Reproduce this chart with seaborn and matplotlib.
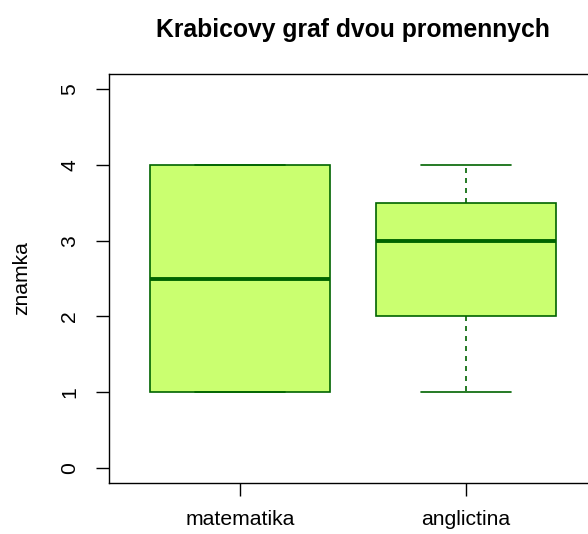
import matplotlib
matplotlib.use("Agg")
import matplotlib.pyplot as plt
import seaborn as sns
import pandas as pd

# Data (scores for each subject)
matematika = [1, 1, 1, 4, 4, 4]
anglictina = [1, 2, 2, 3, 3, 4, 4]
categories = ["matematika", "anglictina"]
yticks = [0, 1, 2, 3, 4, 5]

df = pd.DataFrame({
    "predmet": ["matematika"] * len(matematika) + ["anglictina"] * len(anglictina),
    "znamka": matematika + anglictina,
})

sns.set_style("ticks")
plt.rcParams["font.family"] = ["Liberation Sans", "DejaVu Sans"]
plt.rcParams["text.color"] = "black"
plt.rcParams["axes.labelcolor"] = "black"
plt.rcParams["xtick.color"] = "black"
plt.rcParams["ytick.color"] = "black"

fig = plt.figure(figsize=(5.88, 5.34), dpi=100)
W, H = 588, 534
ax = fig.add_axes([109 / W, 1 - 483 / H, (597 - 109) / W, (483 - 74) / H])

fill = "#CAFF70"
edge = "#006400"
lw = 1.2

sns.boxplot(
    data=df, x="predmet", y="znamka", order=categories, ax=ax,
    color=fill, saturation=1, width=0.8, linecolor=edge, linewidth=lw,
    whis=1.5, showfliers=True,
    whiskerprops=dict(linestyle=(0, (3, 3)), color=edge, linewidth=lw),
    capprops=dict(color=edge, linewidth=lw),
    medianprops=dict(color=edge, linewidth=2.8),
    boxprops=dict(edgecolor=edge, linewidth=lw),
)

ax.set_xlim(-0.58, 1.58)
ax.set_ylim(-0.2, 5.2)
ax.set_yticks(yticks)
ax.set_yticklabels([str(t) for t in yticks], rotation=90, va="center")
ax.tick_params(axis="both", length=9.4, width=1.0, color="black", labelsize=15.2,
               labelcolor="black", direction="out")
ax.tick_params(axis="y", pad=12)
ax.tick_params(axis="x", pad=10)
for s in ["left", "bottom", "top"]:
    ax.spines[s].set_visible(True)
    ax.spines[s].set_color("black")
    ax.spines[s].set_linewidth(1.0)
ax.spines["right"].set_visible(False)

ax.set_xlabel("")
ax.set_ylabel("znamka", fontsize=15.2, labelpad=21, color="black")
ax.set_title("Krabicovy graf dvou promennych", fontsize=17.8, fontweight="bold",
             pad=27, color="black")

fig.savefig("out.png", dpi=100)
